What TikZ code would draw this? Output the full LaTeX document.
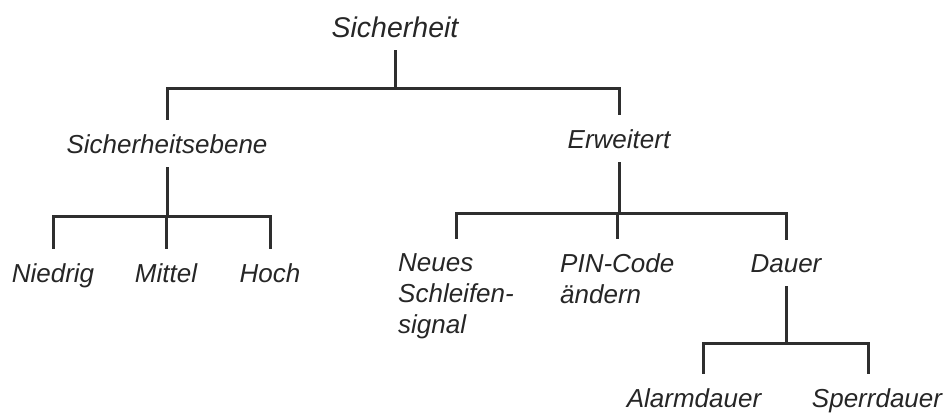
\documentclass[tikz,border=0pt]{standalone}
\usepackage{fontspec}
\setmainfont{Liberation Sans}

\begin{document}
\begin{tikzpicture}[x=1pt,y=-1pt]
  \useasboundingbox (0,0) rectangle (947,413);
  \tikzstyle{every node}=[inner xsep=0pt,inner ysep=14pt,text=black!85,
                          font=\fontsize{26}{31}\selectfont\itshape]
  \node[anchor=base,inner ysep=13pt,font=\fontsize{28.5}{34}\selectfont\itshape] (sicherheit) at (395,37) {Sicherheit};
  \node[anchor=base] (ebene)     at (167,153) {Sicherheitsebene};
  \node[anchor=base] (erweitert) at (619,148) {Erweitert};
  \node[anchor=base] (niedrig)   at (53,282)  {Niedrig};
  \node[anchor=base] (mittel)    at (166,282) {Mittel};
  \node[anchor=base] (hoch)      at (270,282) {Hoch};
  \node[anchor=north west,align=left] (schleife) at (398,239) {Neues\\Schleifen-\\signal};
  \node[anchor=north west,align=left] (pin)      at (560,239) {PIN-Code\\ändern};
  \node[anchor=base] (dauer)     at (786,272) {Dauer};
  \node[anchor=base] (alarm)     at (694,407) {Alarmdauer};
  \node[anchor=base] (sperr)     at (877,407) {Sperrdauer};

%% draw connections
  \tikzstyle{tree}=[line width=3pt,draw=black!82]

%% root -> Sicherheitsebene, Erweitert
  \path (sicherheit.south) ++(0,38) coordinate (bar-top);
  \foreach \n in {ebene,erweitert}
    \draw[tree] (sicherheit.south) -- (bar-top) -| (\n.north);

%% Sicherheitsebene -> levels
  \path (ebene.south) ++(0,49) coordinate (bar-ebene);
  \foreach \n in {niedrig,mittel,hoch}
    \draw[tree] (ebene.south) -- (bar-ebene) -| (\n.north);

%% Erweitert -> options
  \path (erweitert.south) ++(0,51) coordinate (bar-erw);
  \foreach \n in {schleife,pin,dauer}
    \draw[tree] (erweitert.south) -- (bar-erw) -| (\n.north);

%% Dauer -> times
  \path (dauer.south) ++(0,57) coordinate (bar-dauer);
  \foreach \n/\dx in {alarm/9pt,sperr/-9pt}
    \draw[tree] (dauer.south) -- (bar-dauer) -| ([xshift=\dx] \n.north);
\end{tikzpicture}
\end{document}
